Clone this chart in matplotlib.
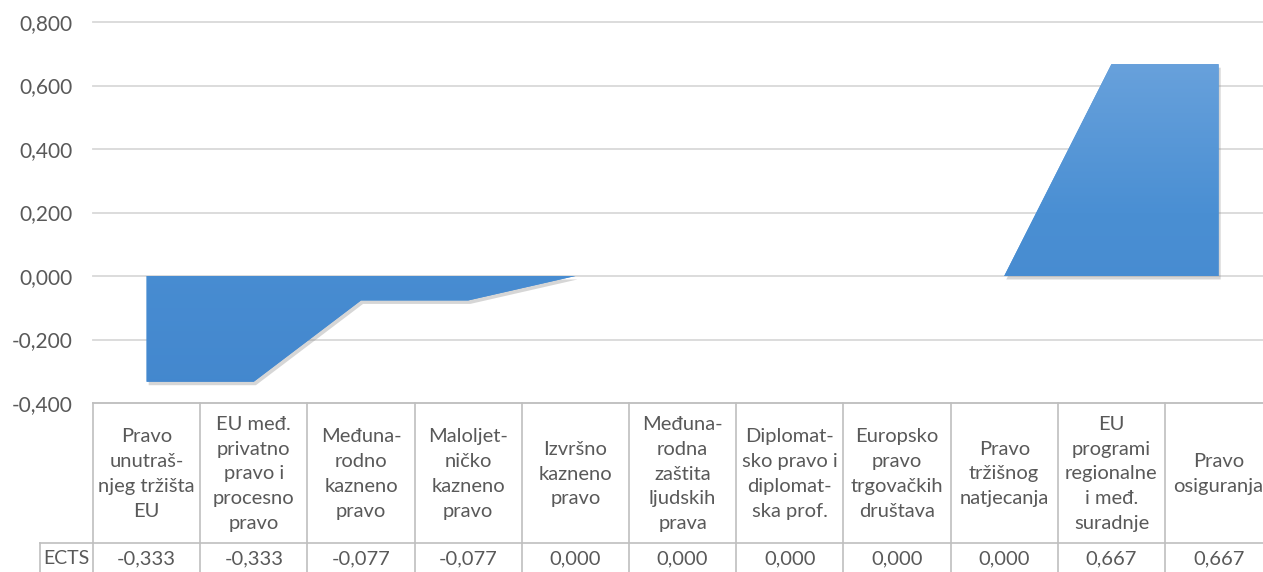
import matplotlib
matplotlib.use("Agg")
import matplotlib.pyplot as plt
import matplotlib.patheffects as pe
import matplotlib.transforms as mtransforms
from matplotlib.colors import LinearSegmentedColormap
import numpy as np

categories = [
    "Pravo\nunutraš-\nnjeg tržišta\nEU",
    "EU međ.\nprivatno\npravo i\nprocesno\npravo",
    "Međuna-\nrodno\nkazneno\npravo",
    "Maloljet-\nničko\nkazneno\npravo",
    "Izvršno\nkazneno\npravo",
    "Međuna-\nrodna\nzaštita\nljudskih\nprava",
    "Diplomat-\nsko pravo i\ndiplomat-\nska prof.",
    "Europsko\npravo\ntrgovačkih\ndruštava",
    "Pravo\ntržišnog\nnatjecanja",
    "EU\nprogrami\nregionalne\ni međ.\nsuradnje",
    "Pravo\nosiguranja",
]
values = [-0.333, -0.333, -0.077, -0.077, 0.0, 0.0, 0.0, 0.0, 0.0, 0.667, 0.667]
series_name = "ECTS"
yticks = [-0.4, -0.2, 0.0, 0.2, 0.4, 0.6, 0.8]

plt.rcParams['font.family'] = ['Lato', 'DejaVu Sans']
TXT = '#595959'
GRID = '#D9D9D9'
TLINE = '#BFBFBF'

W, H = 1263, 572
fig = plt.figure(figsize=(W / 100, H / 100), dpi=100)
n = len(categories)
colw = 107.2
x0 = 93
ytop, ybot = 22, 403
ax = fig.add_axes([x0 / W, 1 - ybot / H, n * colw / W, (ybot - ytop) / H])

x = np.arange(n)
ax.set_xlim(-0.5, n - 0.5)
ax.set_ylim(-0.4, 0.8)
ax.set_yticks(yticks)
ax.set_yticklabels([f"{t:.3f}".replace('.', ',') for t in yticks], color=TXT, fontsize=15)
ax.tick_params(axis='y', length=0, pad=15)
ax.set_xticks([])
for s in ax.spines.values():
    s.set_visible(False)
for t in yticks:
    ax.axhline(t, color=GRID, lw=1.3, zorder=0, clip_on=False)

poly = ax.fill_between(x, values, 0, facecolor='#4A8FD3', edgecolor='none', zorder=2,
                       path_effects=[pe.SimplePatchShadow(offset=(1.5, -2.5), shadow_rgbFace='#8a8a8a', alpha=0.35),
                                     pe.Normal()])
cmap = LinearSegmentedColormap.from_list('g', ['#4387CE', '#4A8FD3', '#70A6DE'])
grad = np.linspace(0, 1, 256).reshape(-1, 1)
im = ax.imshow(grad, extent=[-0.5, n - 0.5, -0.4, 0.8], origin='lower', aspect='auto',
               cmap=cmap, zorder=3)
im.set_clip_path(poly.get_paths()[0], transform=ax.transData)

# data table
trans = mtransforms.blended_transform_factory(ax.transData, fig.transFigure)
def fy(py):
    return 1 - py / H

y_head_top, y_head_bot, y_val_bot = 403, 543, 575
xl = -0.5
xr = n - 0.5
lw = 1.2
ax.plot([xl, xr + 1], [fy(y_head_top)] * 2, transform=trans, color=TLINE, lw=lw, clip_on=False)
ect_left = -0.5 - (x0 - 40) / colw
ax.plot([ect_left, xr + 1], [fy(y_head_bot)] * 2, transform=trans, color=TLINE, lw=lw, clip_on=False)
ax.plot([ect_left, ect_left], [fy(y_head_bot), fy(y_val_bot)], transform=trans, color=TLINE, lw=lw, clip_on=False)
for i in range(n + 1):
    xb = -0.5 + i
    ax.plot([xb, xb], [fy(y_head_top), fy(y_val_bot)], transform=trans, color=TLINE, lw=lw, clip_on=False)

for i, (c, v) in enumerate(zip(categories, values)):
    ax.text(i, fy((y_head_top + y_head_bot) / 2 + 1), c, transform=trans, ha='center', va='center',
            fontsize=14.5, color=TXT, linespacing=1.56, clip_on=False)
    ax.text(i, fy(559), f"{v:.3f}".replace('.', ','), transform=trans, ha='center', va='center',
            fontsize=14.5, color=TXT, clip_on=False)
ax.text((ect_left + xl) / 2, fy(559), series_name, transform=trans, ha='center', va='center',
        fontsize=14, color=TXT, clip_on=False)

fig.savefig('out.png', dpi=100)
